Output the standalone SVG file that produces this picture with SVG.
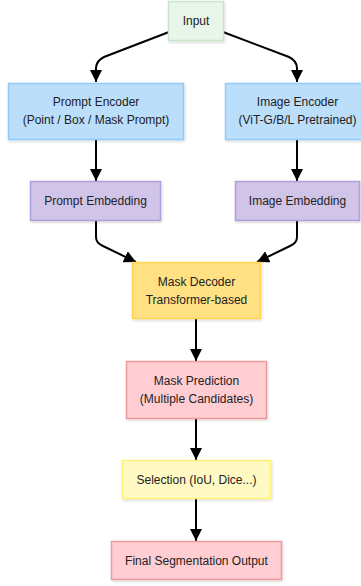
<svg xmlns="http://www.w3.org/2000/svg" width="361" height="586" viewBox="0 0 361 586">
<defs>
<filter id="sh" x="-10%" y="-10%" width="130%" height="140%">
<feDropShadow dx="1" dy="1.5" stdDeviation="1" flood-color="#000" flood-opacity="0.15"/>
</filter>
<marker id="arr" markerUnits="userSpaceOnUse" markerWidth="12" markerHeight="12" viewBox="0 0 10 10" refX="10" refY="5" orient="auto">
<path d="M0,0 L10,5 L0,10 z" fill="#000"/>
</marker>
</defs>
<style>
.box{stroke-width:1.5;filter:url(#sh)}
.t{font-family:"Liberation Sans",Arial,sans-serif;font-size:12px;fill:#222;text-anchor:middle}
.e{fill:none;stroke:#000;stroke-width:2;marker-end:url(#arr)}
.green{fill:#e8f5e9;stroke:#c8e6c9}
.blue{fill:#bbdefb;stroke:#90caf9}
.purple{fill:#d1c4e9;stroke:#b39ddb}
.gold{fill:#ffe082;stroke:#ffd54f}
.pink{fill:#ffcdd2;stroke:#ef9a9a}
.yellow{fill:#fff9c4;stroke:#fff176}
</style>
<rect width="361" height="586" fill="#fff"/>
<g id="edges">
<path class="e" d="M169,32 L104,57 Q96,61 96,68 L96,82"/>
<path class="e" d="M223,32 L289,57 Q297,61 297,68 L297,82"/>
<path class="e" d="M96,139.5 L96,181"/>
<path class="e" d="M297,139.5 L297,181"/>
<path class="e" d="M96,221 L96,237 Q96,243 103,246 L136,262"/>
<path class="e" d="M297,221 L297,237 Q297,243 290,246 L257,262"/>
<path class="e" d="M196,319 L196,361"/>
<path class="e" d="M196,419 L196,460"/>
<path class="e" d="M196,499 L196,541"/>
</g>
<g id="input">
<rect class="box green" x="168.5" y="1.5" width="55" height="39"/>
<text class="t" x="196" y="25">Input</text>
</g>
<g id="prompt-encoder">
<rect class="box blue" x="8.5" y="83.5" width="175" height="56"/>
<text class="t" x="96" y="106">Prompt Encoder</text>
<text class="t" x="96" y="124">(Point / Box / Mask Prompt)</text>
</g>
<g id="image-encoder">
<rect class="box blue" x="225.5" y="83.5" width="145" height="56"/>
<text class="t" x="297.5" y="106">Image Encoder</text>
<text class="t" x="297.5" y="124">(ViT-G/B/L Pretrained)</text>
</g>
<g id="prompt-embedding">
<rect class="box purple" x="30.5" y="181.5" width="130" height="39"/>
<text class="t" x="95.5" y="205">Prompt Embedding</text>
</g>
<g id="image-embedding">
<rect class="box purple" x="235.5" y="181.5" width="124" height="39"/>
<text class="t" x="297.5" y="205">Image Embedding</text>
</g>
<g id="mask-decoder">
<rect class="box gold" x="132.5" y="262.5" width="128" height="56"/>
<text class="t" x="196.5" y="286">Mask Decoder</text>
<text class="t" x="196.5" y="304">Transformer-based</text>
</g>
<g id="mask-prediction">
<rect class="box pink" x="126.5" y="361.5" width="140" height="57"/>
<text class="t" x="196.5" y="385">Mask Prediction</text>
<text class="t" x="196.5" y="403">(Multiple Candidates)</text>
</g>
<g id="selection">
<rect class="box yellow" x="122.5" y="460.5" width="148" height="38"/>
<text class="t" x="196.5" y="484">Selection (IoU, Dice...)</text>
</g>
<g id="final-output">
<rect class="box pink" x="111.5" y="541.5" width="170" height="38"/>
<text class="t" x="196.5" y="565">Final Segmentation Output</text>
</g>
</svg>
